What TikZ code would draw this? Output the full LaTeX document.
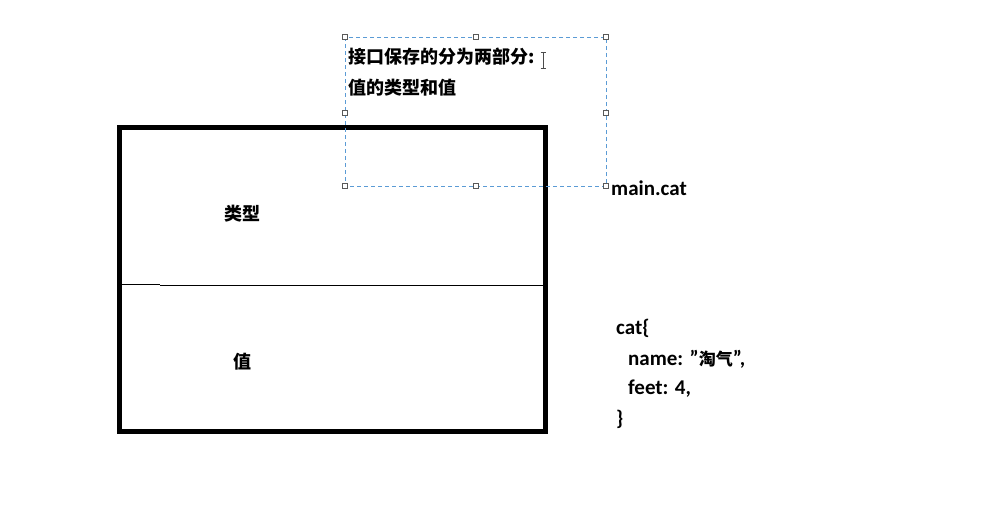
\documentclass[tikz,border=0pt]{standalone}
\usepackage{fontspec}
\setmainfont{Carlito}
\newfontfamily\cjk{Noto Sans CJK SC}
\definecolor{selblue}{HTML}{5B9BD5}
\newcommand{\dq}{\symbol{34}}
\begin{document}
\begin{tikzpicture}[x=1pt,y=-1pt,
  cjktxt/.style={inner sep=0pt,font=\fontsize{18}{22}\selectfont\bfseries\cjk},
  code/.style={inner sep=0pt,anchor=west,font=\fontsize{21}{25}\selectfont\bfseries},
  handle/.style={draw=gray!70!black,fill=white,minimum size=5pt,inner sep=0pt,line width=0.7pt},
  sel/.style={draw=selblue,line width=1pt,dash pattern=on 4pt off 3pt}]
\useasboundingbox[fill=white] (0,0) rectangle (989,509);
% main box
\draw[line width=5pt] (119.8,127) rectangle (545.8,431);
\draw[line width=1pt] (122,284) -- (160,284);
\draw[line width=1.2pt] (160,285.5) -- (543.5,285.5);
\node[cjktxt] (type) at (242,214) {类型};
\node[cjktxt] (value) at (242,362) {值};
% selection frame
\draw[sel] (345,37) rectangle (606,186);
\foreach \p/\n in {{(345,37)}/h1,{(476,37)}/h2,{(606,37)}/h3,{(345,113)}/h4,{(606,113)}/h5,{(345,186)}/h6,{(476,186)}/h7,{(606,186)}/h8}
  \node[handle] (\n) at \p {};
\node[cjktxt,anchor=west] (note1) at (348,57) {接口保存的分为两部分:};
\node[cjktxt,anchor=west] (note2) at (348,88) {值的类型和值};
% text cursor
\draw[gray!60!black,line width=0.8pt] (543,53) -- (543,68) (540.5,52.5) -- (545.5,52.5) (540.5,68.5) -- (545.5,68.5);
\node[code] (main) at (611,188) {main.cat};
\node[code] (c1) at (616,328) {cat\{};
\node[code] (c2) at (628,359) {name: \dq{\cjk\fontsize{17}{20}\selectfont 淘气}\dq,};
\node[code] (c3) at (628,389) {feet: 4,};
\node[code] (c4) at (616,419) {\}};
\end{tikzpicture}
\end{document}
